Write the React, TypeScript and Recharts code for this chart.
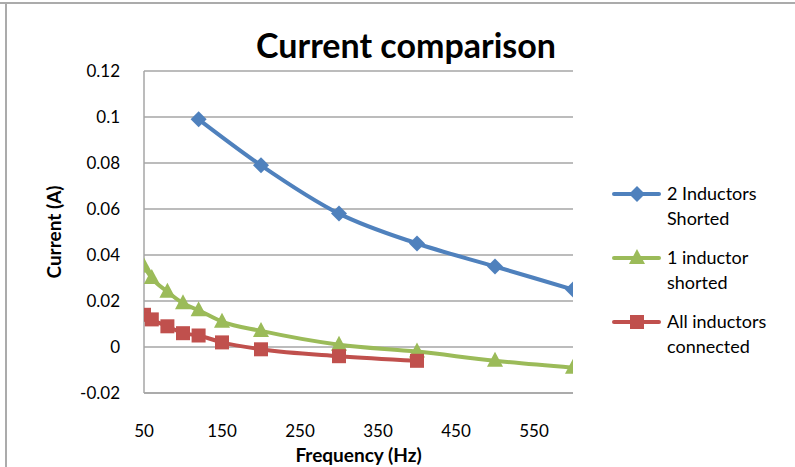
import { CartesianGrid, Legend, Line, LineChart, XAxis, YAxis } from 'recharts'

const FONT = 'Lato, "Open Sans", sans-serif'

// frequency (Hz) / current (A)
const shorted2Freq = [120, 200, 300, 400, 500, 600]
const shorted2Current = [0.099, 0.079, 0.058, 0.045, 0.035, 0.025]

const shorted1Freq = [50, 60, 80, 100, 120, 150, 200, 300, 400, 500, 600]
const shorted1Current = [0.035, 0.03, 0.024, 0.019, 0.016, 0.011, 0.007, 0.001, -0.002, -0.006, -0.009]

const connectedFreq = [50, 60, 80, 100, 120, 150, 200, 300, 400]
const connectedCurrent = [0.014, 0.012, 0.009, 0.006, 0.005, 0.002, -0.001, -0.004, -0.006]

const xTicks = [50, 150, 250, 350, 450, 550]
const yTicks = [-0.02, 0, 0.02, 0.04, 0.06, 0.08, 0.1, 0.12]

const toPoints = (xs: number[], ys: number[]) => xs.map((x, i) => ({ x, y: ys[i] }))

const BLUE = '#4F81BD'
const GREEN = '#9BBB59'
const RED = '#C0504D'

const Diamond = ({ cx, cy, fill }: any) => {
  if (cx == null || cy == null) return null
  const r = 8
  return <polygon points={`${cx},${cy - r} ${cx + r},${cy} ${cx},${cy + r} ${cx - r},${cy}`} fill={fill} />
}

const Triangle = ({ cx, cy, fill }: any) => {
  if (cx == null || cy == null) return null
  return <polygon points={`${cx},${cy - 9} ${cx + 8},${cy + 6} ${cx - 8},${cy + 6}`} fill={fill} />
}

const Square = ({ cx, cy, fill }: any) => {
  if (cx == null || cy == null) return null
  return <rect x={cx - 7} y={cy - 7} width={14} height={14} fill={fill} />
}

const series = [
  { name: '2 Inductors Shorted', lines: ['2 Inductors', 'Shorted'], color: BLUE, dot: Diamond, data: toPoints(shorted2Freq, shorted2Current) },
  { name: '1 inductor shorted', lines: ['1 inductor', 'shorted'], color: GREEN, dot: Triangle, data: toPoints(shorted1Freq, shorted1Current) },
  { name: 'All inductors connected', lines: ['All inductors', 'connected'], color: RED, dot: Square, data: toPoints(connectedFreq, connectedCurrent) },
]

const renderLegend = () => (
  <div style={{ fontFamily: FONT, fontSize: 18, color: '#000', lineHeight: '25px', textAlign: 'left' }}>
    {series.map((s) => {
      const Mark = s.dot
      return (
        <div key={s.name} style={{ display: 'flex', alignItems: 'flex-start', marginBottom: 14 }}>
          <svg width={55} height={25} style={{ flex: 'none' }}>
            <line x1={2} y1={13} x2={47} y2={13} stroke={s.color} strokeWidth={4} strokeLinecap="round" />
            <Mark cx={25} cy={13} fill={s.color} />
          </svg>
          <div>
            {s.lines.map((l) => (
              <div key={l}>{l}</div>
            ))}
          </div>
        </div>
      )
    })}
  </div>
)

const fmt = (v: number) => String(Number(v.toFixed(2)))

export default function App() {
  return (
    <div style={{ position: 'absolute', left: 0, top: 0, width: 795, height: 467, background: '#fff', fontFamily: FONT }}>
      <div style={{ position: 'absolute', left: 0, top: 2, width: 795, height: 2, background: '#ababab' }} />
      <div style={{ position: 'absolute', left: 5, top: 2, width: 2, height: 465, background: '#ababab' }} />
      <div
        style={{
          position: 'absolute',
          left: 0,
          width: 812,
          top: 24,
          textAlign: 'center',
          fontWeight: 700,
          fontSize: 34,
          color: '#000',
        }}
      >
        Current comparison
      </div>
      <LineChart width={795} height={467} margin={{ top: 71, right: 42, bottom: 4, left: 20 }}>
        <CartesianGrid vertical={false} stroke="#a6a6a6" strokeWidth={1.5} />
        <XAxis
          type="number"
          dataKey="x"
          domain={[50, 600]}
          ticks={xTicks}
          allowDataOverflow
          tickLine={false}
          axisLine={{ stroke: '#a6a6a6', strokeWidth: 1.5 }}
          tick={{ fill: '#000', fontSize: 17, fontFamily: FONT }}
          tickMargin={26}
          height={70}
          label={{ value: 'Frequency (Hz)', position: 'insideBottom', offset: 1, fill: '#000', fontSize: 19, fontWeight: 700, fontFamily: FONT }}
        />
        <YAxis
          type="number"
          dataKey="y"
          domain={[-0.02, 0.12]}
          ticks={yTicks}
          tickFormatter={fmt}
          tickLine={false}
          axisLine={{ stroke: '#a6a6a6', strokeWidth: 1.5 }}
          tick={{ fill: '#000', fontSize: 17, fontFamily: FONT }}
          tickMargin={18}
          width={124}
          label={{ value: 'Current (A)', angle: -90, position: 'insideLeft', offset: 34, fill: '#000', fontSize: 19, fontWeight: 700, fontFamily: FONT, style: { textAnchor: 'middle' } }}
        />
        <Legend
          layout="vertical"
          align="right"
          verticalAlign="middle"
          width={180}
          content={renderLegend}
          wrapperStyle={{ left: 612, top: 181, width: 180 }}
        />
        {series.map((s) => (
          <Line
            key={s.name}
            data={s.data}
            dataKey="y"
            name={s.name}
            type="monotone"
            stroke={s.color}
            strokeWidth={4}
            dot={<s.dot fill={s.color} />}
            activeDot={false}
            isAnimationActive={false}
          />
        ))}
      </LineChart>
    </div>
  )
}
